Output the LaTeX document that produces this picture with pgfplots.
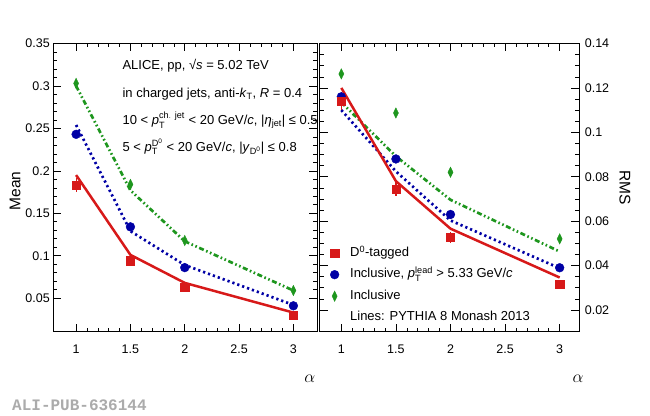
\documentclass[border=0pt]{standalone}
\usepackage{fontspec}
\setmainfont{Liberation Sans}
\newfontfamily\monofont{Liberation Mono}
\usepackage{pgfplots}
\pgfplotsset{compat=1.18}
\definecolor{myred}{RGB}{215,25,25}
\definecolor{myblue}{RGB}{0,0,165}
\definecolor{mygreen}{RGB}{30,150,30}
\pgfplotsset{
  rootstyle/.style={
    scale only axis, height=288.2pt,
    tick align=inside, tick pos=both,
    major tick length=8pt, minor tick length=4pt,
    xtick={1,1.5,2,2.5,3}, xticklabels={1,1.5,2,2.5,3},
    minor x tick num=4,
    axis line style={line width=0.8pt},
    every tick/.style={black, line width=0.6pt},
    tick label style={font=\fontsize{12.5}{14}\selectfont},
    xticklabel style={yshift=-10pt},
    /pgf/number format/assume math mode=true,
    scaled ticks=false,
  },
  datared/.style={only marks, mark=square*, mark size=4.2pt, color=myred,
    error bars/y dir=both, error bars/y explicit,
    error bars/error bar style={line width=1.2pt, myred},
    error bars/error mark=none},
  datablue/.style={only marks, mark=*, mark size=4.4pt, color=myblue},
  datagreen/.style={only marks, mark=diamond*, mark size=5.2pt, mark options={xscale=0.65}, color=mygreen},
  linered/.style={no marks, line width=2.5pt, color=myred},
  lineblue/.style={no marks, line width=2.7pt, color=myblue, dash pattern=on 2.2pt off 3pt},
  linegreen/.style={no marks, line width=2.7pt, color=mygreen, dash pattern=on 5pt off 2.6pt on 1.6pt off 2.6pt on 1.6pt off 2.6pt},
}
\begin{document}
\begin{tikzpicture}[x=1pt,y=1pt]
\useasboundingbox (0,0) rectangle (650,415);
% ---------------- Left panel: Mean ----------------
\begin{axis}[rootstyle,
  at={(53.3pt,83.3pt)}, anchor=south west,
  width=264pt,
  xmin=0.79, xmax=3.22, ymin=0.0105, ymax=0.35,
  ytick={0.05,0.1,0.15,0.2,0.25,0.3,0.35},
  yticklabels={0.05,0.1,0.15,0.2,0.25,0.3,0.35},
  minor y tick num=4,
  ylabel={Mean},
  every axis y label/.style={at={(axis description cs:-0.145,0.488)}, rotate=90, anchor=center, font=\fontsize{15.5}{17}\selectfont},
  xlabel={$\alpha$},
  every axis x label/.style={at={(axis description cs:0.972,-0.164)}, anchor=center, font=\fontsize{17}{19}\selectfont},
]
\addplot[linegreen] coordinates {(1,0.300) (1.5,0.177) (2,0.117) (3,0.059)};
\addplot[lineblue] coordinates {(1,0.254) (1.5,0.129) (2,0.089) (3,0.042)};
\addplot[linered] coordinates {(1,0.195) (1.5,0.101) (2,0.068) (3,0.033)};
\addplot[datagreen] coordinates {(1,0.303) (1.5,0.184) (2,0.118) (3,0.059)};
\addplot[datablue] coordinates {(1,0.243) (1.5,0.134) (2,0.086) (3,0.041)};
\addplot[datared] coordinates {(1,0.183) +- (0,0.008) (1.5,0.094) +- (0,0.003) (2,0.063) +- (0,0.002) (3,0.030) +- (0,0.0015)};
\node[anchor=base west, font=\fontsize{13}{15}\selectfont] at (axis description cs:0.249,0.910) {ALICE, pp, √\textit{s} = 5.02 TeV};
\node[anchor=base west, font=\fontsize{13}{15}\selectfont] at (axis description cs:0.249,0.813) {in charged jets, anti-\textit{k}$_{\mathrm{T}}$, \textit{R} = 0.4};
\node[anchor=base west, font=\fontsize{13}{15}\selectfont] at (axis description cs:0.249,0.719) {10 < \textit{p}$_{\mathrm{T}}^{\mathrm{ch.\ jet}}$ < 20 GeV/\textit{c}, |\textit{η}$_{\mathrm{jet}}$| ≤ 0.5};
\node[anchor=base west, font=\fontsize{13}{15}\selectfont] at (axis description cs:0.249,0.626) {5 < \textit{p}$_{\mathrm{T}}^{\mathrm{D^{0}}}$ < 20 GeV/\textit{c}, |\textit{y}$_{\mathrm{D^{0}}}$| ≤ 0.8};
\end{axis}
% ---------------- Right panel: RMS ----------------
\begin{axis}[rootstyle,
  at={(319.5pt,83.3pt)}, anchor=south west,
  width=259.8pt,
  xmin=0.8, xmax=3.18, ymin=0.0102, ymax=0.14,
  ytick={0.02,0.04,0.06,0.08,0.1,0.12,0.14},
  yticklabels={0.02,0.04,0.06,0.08,0.1,0.12,0.14},
  minor y tick num=3,
  yticklabel pos=right,
  yticklabel style={xshift=2pt},
  ylabel={RMS},
  every axis y label/.style={at={(axis description cs:1.176,0.5)}, rotate=-90, anchor=center, font=\fontsize{15.5}{17}\selectfont},
  xlabel={$\alpha$},
  every axis x label/.style={at={(axis description cs:0.995,-0.164)}, anchor=center, font=\fontsize{17}{19}\selectfont},
  legend cell align=left,
  legend style={at={(axis description cs:0.019,0.307)}, anchor=north west, draw=none, fill=none,
    font=\fontsize{13}{15}\selectfont, row sep=6pt,
    nodes={text height=9.5pt, text depth=3pt, inner sep=1.5pt}},
  legend image code/.code={\path[draw=none] (0pt,0pt) -- (21pt,0pt); \path[#1, draw=none] plot coordinates {(7pt,0pt)};},
]
\addlegendimage{only marks, mark=square*, mark size=4.2pt, color=myred}
\addlegendentry{D$^{\mathrm{0}}$-tagged}
\addlegendimage{only marks, mark=*, mark size=4.4pt, color=myblue}
\addlegendentry{Inclusive, \textit{p}$_{\mathrm{T}}^{\mathrm{lead}}$ > 5.33 GeV/\textit{c}}
\addlegendimage{only marks, mark=diamond*, mark size=5.2pt, mark options={xscale=0.65}, color=mygreen}
\addlegendentry{Inclusive}
\addlegendimage{empty legend}
\addlegendentry{Lines: PYTHIA 8 Monash 2013}
\addplot[forget plot, linegreen] coordinates {(1,0.1135) (1.5,0.0892) (2,0.0696) (3,0.0463)};
\addplot[forget plot, lineblue] coordinates {(1,0.110) (1.5,0.0824) (2,0.0603) (3,0.0388)};
\addplot[forget plot, linered] coordinates {(1,0.120) (1.5,0.078) (2,0.0566) (3,0.0346)};
\addplot[forget plot, datagreen] coordinates {(1,0.1263) (1.5,0.1087) (2,0.082) (3,0.052)};
\addplot[forget plot, datablue] coordinates {(1,0.116) (1.5,0.088) (2,0.063) (3,0.039)};
\addplot[forget plot, datared] coordinates {(1,0.114) +- (0,0.004) (1.5,0.0745) +- (0,0.003) (2,0.0528) +- (0,0.0025) (3,0.0316) +- (0,0.001)};
\end{axis}
\node[anchor=west, font=\monofont\bfseries\fontsize{16}{18}\selectfont, text=black!33, inner sep=0pt] at (12,10) {ALI-PUB-636144};
\end{tikzpicture}
\end{document}
